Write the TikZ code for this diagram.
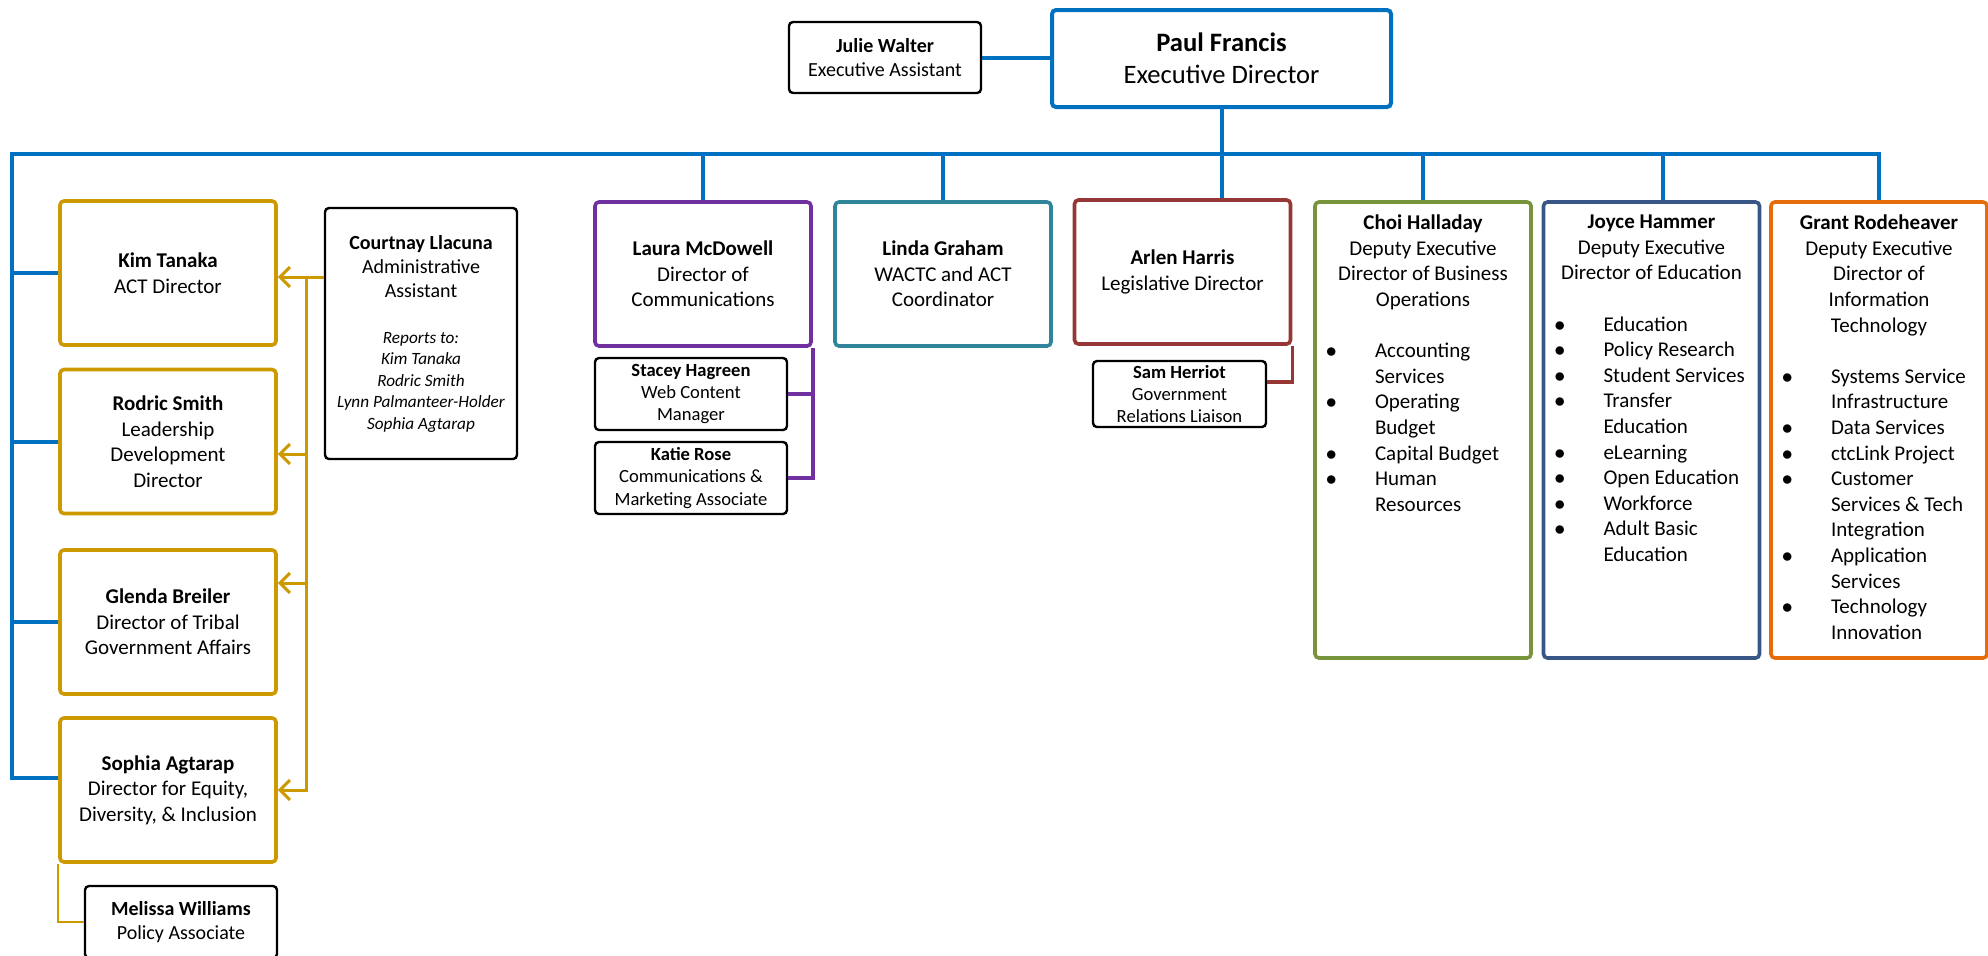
\documentclass[tikz,border=0pt]{standalone}
\usepackage{fontspec}
\setmainfont{Carlito}
\usepackage{tikz}
\usetikzlibrary{arrows.meta, positioning}
\definecolor{orgblue}{RGB}{0, 112, 192}
\definecolor{actgold}{RGB}{204, 153, 0}
\definecolor{commpurple}{RGB}{112, 48, 160}
\definecolor{coordteal}{RGB}{49, 133, 155}
\definecolor{legisred}{RGB}{149, 55, 53}
\definecolor{bizgreen}{RGB}{119, 147, 60}
\definecolor{edunavy}{RGB}{56, 87, 135}
\definecolor{itorange}{RGB}{228, 108, 10}

\newcommand{\bul}{$\bullet$}
\newcommand{\deptlist}[1]{\par\vspace{12.8pt}{\raggedright\noindent\hspace*{5.4pt}\begin{tabular}[t]{@{}p{24.6pt}@{}l@{}}#1\end{tabular}\par}}
\newcommand{\depttext}[2]{\parbox[c][228pt][t]{108pt}{\centering\vspace*{6.5pt}#1\deptlist{#2}}}

\begin{document}
\begin{tikzpicture}[x=0.5pt, y=-0.5pt,
    orgbox/.style={draw=#1, line width=1.8pt, rounded corners=2pt, inner sep=0pt, align=center, font=\fontsize{10.5}{12.8}\selectfont},
    mainbox/.style={orgbox=#1, minimum width=108pt, minimum height=72pt},
    staffbox/.style={draw=black, line width=1.2pt, rounded corners=2pt, inner sep=0pt, align=center, minimum width=96pt, minimum height=36pt, font=\fontsize{10}{12}\selectfont},
    smallbox/.style={staffbox, font=\fontsize{9.3}{11.2}\selectfont},
    blueline/.style={draw=orgblue, line width=2pt},
    goldarrow/.style={draw=actgold, line width=1.5pt, -{Straight Barb[length=5pt, width=10pt]}},
    goldline/.style={draw=actgold, line width=1.2pt},
    purpleline/.style={draw=commpurple, line width=1.8pt},
    redline/.style={draw=legisred, line width=1.8pt}]
    \useasboundingbox (0,0) rectangle (1988,955);

    \node[orgbox=orgblue, line width=2pt, minimum width=169.5pt, minimum height=48.5pt, font=\fontsize{13.3}{16}\selectfont] (paul) at (1221.5,58.5) {\textbf{Paul Francis}\\Executive Director};
    \node[staffbox, minimum height=35.5pt] (julie) at (885,57.5) {\textbf{Julie Walter}\\Executive Assistant};

    \node[mainbox=actgold] (kim) at (168,273) {\textbf{Kim Tanaka}\\ACT Director};
    \node[mainbox=actgold] (rodric) at (168,441.5) {\textbf{Rodric Smith}\\Leadership\\Development\\Director};
    \node[mainbox=actgold] (glenda) at (168,622) {\textbf{Glenda Breiler}\\Director of Tribal\\Government Affairs};
    \node[mainbox=actgold] (sophia) at (168,790) {\textbf{Sophia Agtarap}\\Director for Equity,\\Diversity, \& Inclusion};
    \node[staffbox] (melissa) at (181,922) {\textbf{Melissa Williams}\\Policy Associate};
    \node[staffbox, minimum height=125.5pt] (courtnay) at (421,333.5) {\parbox{96pt}{\centering\textbf{Courtnay Llacuna}\\Administrative\\Assistant\par\vspace{12.25pt}\fontsize{8.6}{10.75}\selectfont\itshape Reports to:\\Kim Tanaka\\Rodric Smith\\Lynn Palmanteer-Holder\\Sophia Agtarap\par}};

    \node[mainbox=commpurple] (laura) at (703,274) {\textbf{Laura McDowell}\\Director of\\Communications};
    \node[smallbox] (stacey) at (691,394) {\textbf{Stacey Hagreen}\\Web Content\\Manager};
    \node[smallbox] (katie) at (691,478) {\textbf{Katie Rose}\\Communications \&\\Marketing Associate};
    \node[mainbox=coordteal] (linda) at (943,274) {\textbf{Linda Graham}\\WACTC and ACT\\Coordinator};
    \node[mainbox=legisred] (arlen) at (1182.5,272) {\textbf{Arlen Harris}\\Legislative Director};
    \node[smallbox, minimum width=86.5pt, minimum height=33pt] (sam) at (1179.5,394) {\textbf{Sam Herriot}\\Government\\Relations Liaison};

    \node[orgbox=bizgreen] (choi) at (1423,430) {\depttext{\textbf{Choi Halladay}\\Deputy Executive\\Director of Business\\Operations}{\bul & Accounting\\ & Services\\ \bul & Operating\\ & Budget\\ \bul & Capital Budget\\ \bul & Human\\ & Resources}};
    \node[orgbox=edunavy] (joyce) at (1651.5,430) {\depttext{\textbf{Joyce Hammer}\\Deputy Executive\\Director of Education}{\bul & Education\\ \bul & Policy Research\\ \bul & Student Services\\ \bul & Transfer\\ & Education\\ \bul & eLearning\\ \bul & Open Education\\ \bul & Workforce\\ \bul & Adult Basic\\ & Education}};
    \node[orgbox=itorange] (grant) at (1879,430) {\depttext{\textbf{Grant Rodeheaver}\\Deputy Executive\\Director of\\Information\\Technology}{\bul & Systems Service\\ & Infrastructure\\ \bul & Data Services\\ \bul & ctcLink Project\\ \bul & Customer\\ & Services \& Tech\\ & Integration\\ \bul & Application\\ & Services\\ \bul & Technology\\ & Innovation}};

    \coordinate (busL) at (12,154);
    \coordinate (eduDrop) at (1663,154);
    \coordinate (adminSplit) at (306,277);

    \draw[blueline] (julie.east) -- (julie.east -| paul.west);
    \draw[blueline] (paul.south) -- (paul.south |- arlen.north);
    \draw[blueline] (grant.north) |- (busL) |- ([yshift=6pt]sophia.west);
    \draw[blueline] (busL |- kim.west) -- (kim.west);
    \draw[blueline] (busL |- rodric.west) -- (rodric.west);
    \draw[blueline] (busL |- glenda.west) -- (glenda.west);
    \draw[blueline] (laura.north |- busL) -- (laura.north);
    \draw[blueline] (linda.north |- busL) -- (linda.north);
    \draw[blueline] (choi.north |- busL) -- (choi.north);
    \draw[blueline] (eduDrop) -- (eduDrop |- joyce.north);

    \draw[goldarrow] ([yshift=28.25pt]courtnay.west) -- ([yshift=-2pt]kim.east);
    \draw[goldarrow] (adminSplit) |- ([yshift=-6.25pt]rodric.east);
    \draw[goldarrow] (adminSplit) |- ([yshift=19.5pt]glenda.east);
    \draw[goldarrow] (adminSplit) |- (sophia.east);
    \draw[goldline] (sophia.south west) |- (melissa.west);

    \draw[purpleline] (laura.south east) |- (katie.east);
    \draw[purpleline] (laura.south east |- stacey.east) -- (stacey.east);
    \draw[redline] (arlen.south east) |- ([yshift=6pt]sam.east);
\end{tikzpicture}
\end{document}
